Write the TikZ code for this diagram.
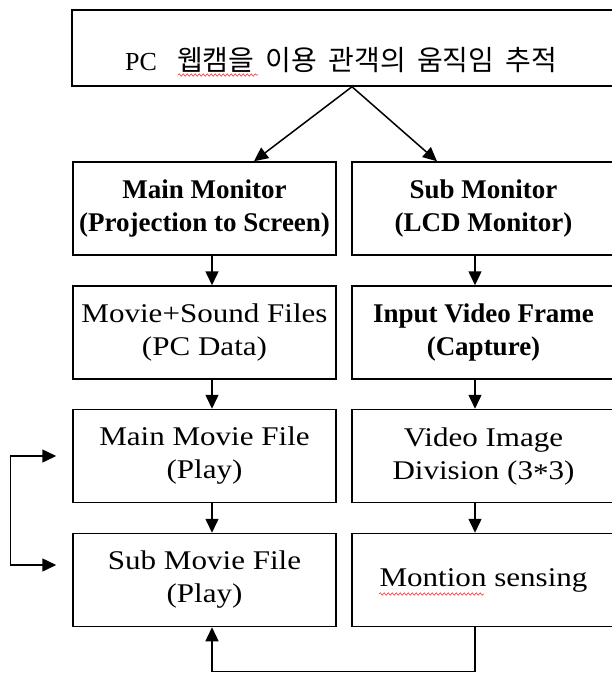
\documentclass[tikz,border=0pt]{standalone}
\usepackage{fontspec}
\setmainfont{Liberation Serif}[FakeStretch=1.15]
\newfontfamily\plainserif{Liberation Serif}
\newfontfamily\kofont{Noto Sans CJK KR}
\usetikzlibrary{arrows.meta,decorations.pathmorphing}

\tikzset{
  >={Triangle[length=14pt,width=13pt]},
  box/.style={draw, line width=1.5pt, minimum width=263pt, minimum height=93pt,
    inner sep=0pt, align=center, font=\fontsize{27}{33}\selectfont},
  boldbox/.style={box, font=\plainserif\bfseries\fontsize{27}{33}\selectfont},
  arr/.style={line width=1.5pt, ->},
  typo/.style={red!80, line width=.6pt, decorate,
    decoration={snake, amplitude=1.2pt, segment length=4pt}}
}

\begin{document}
\begin{tikzpicture}[x=1pt, y=-1pt]
\useasboundingbox (0,0) rectangle (612,673);
% title
\node[box, minimum width=560pt, minimum height=76pt] (title) at (352,48) {};
\node[anchor=base west, inner sep=0pt, font=\fontsize{26}{30}\selectfont] (titletext) at (125,70)
  {\plainserif PC\hspace{20pt}\kofont\fontsize{28}{30}\selectfont 웹캠을\hspace{11pt}이용\hspace{12pt}관객의\hspace{11pt}움직임\hspace{11pt}추적};
\draw[typo] (178,75) -- (258,75);
% left column
\node[boldbox] (mainmon) at (204.5,208.5) {Main Monitor\\(Projection to Screen)};
\node[box] (movie) at (204.5,332.5) {Movie+Sound Files\\(PC Data)};
\node[box] (mainmovie) at (204.5,456) {Main Movie File\\(Play)};
\node[box] (submovie) at (204.5,580) {Sub Movie File\\(Play)};
% right column
\node[boldbox] (submon) at (483.5,208.5) {Sub Monitor\\(LCD Monitor)};
\node[boldbox] (capture) at (483.5,332.5) {Input Video Frame\\(Capture)};
\node[box] (division) at (483.5,456) {Video Image\\Division (3\raisebox{-.25ex}{*}3)};
\node[box] (motion) at (483.5,580) {Montion sensing};
\draw[typo] (379,594) -- (484,594);
% arrows
\draw[arr] (title.south) -- ([xshift=49.5pt]mainmon.north);
\draw[arr] (title.south) -- ([xshift=-46.5pt]submon.north);
\draw[arr] ([xshift=7.5pt]mainmon.south) -- ([xshift=7.5pt]movie.north);
\draw[arr] ([xshift=7.5pt]movie.south) -- ([xshift=7.5pt]mainmovie.north);
\draw[arr] ([xshift=7.5pt]mainmovie.south) -- ([xshift=7.5pt]submovie.north);
\draw[arr] ([xshift=-8.5pt]submon.south) -- ([xshift=-8.5pt]capture.north);
\draw[arr] ([xshift=-8.5pt]capture.south) -- ([xshift=-8.5pt]division.north);
\draw[arr] ([xshift=-8.5pt]division.south) -- ([xshift=-8.5pt]motion.north);
% feedback loops
\draw[arr] ([xshift=-8.5pt]motion.south) -- ++(0,44) -| ([xshift=7.5pt]submovie.south);
\draw[arr, <->] ([xshift=-16pt]mainmovie.west) -- ++(-46,0) |- ([xshift=-16pt,yshift=15pt]submovie.west);
\end{tikzpicture}
\end{document}
